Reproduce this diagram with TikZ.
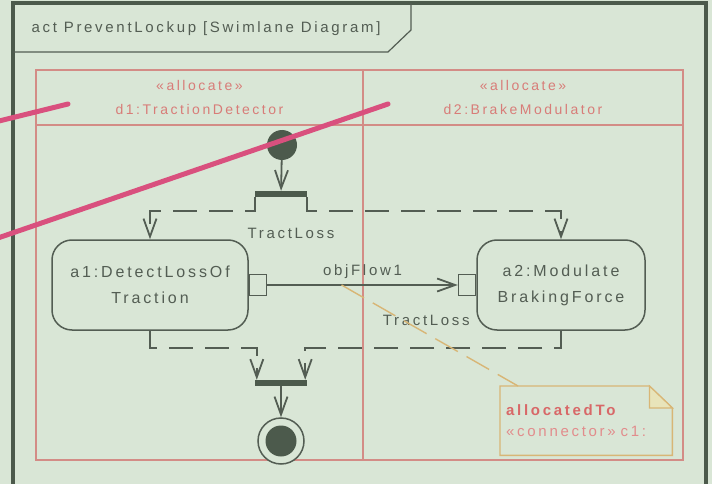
\documentclass[tikz,border=0pt]{standalone}
\usepackage{fontspec}
\setmainfont{Liberation Sans}[LetterSpace=18]
\usepackage{tikz}
\usetikzlibrary{arrows.meta,positioning,calc}

\definecolor{bgcol}{HTML}{D9E6D6}
\definecolor{framecol}{HTML}{4C5A4C}
\definecolor{inkcol}{HTML}{535D53}
\definecolor{lanecol}{HTML}{D38C86}
\definecolor{lanetext}{HTML}{D87C78}
\definecolor{notecol}{HTML}{D8B676}
\definecolor{notefold}{HTML}{E8E4BA}
\definecolor{notered}{HTML}{D86868}
\definecolor{notepink}{HTML}{E28C8C}
\definecolor{pinkline}{HTML}{D9507E}

\begin{document}
\begin{tikzpicture}[x=1pt,y=-1pt,
    every node/.style={text=inkcol,font=\fontsize{15}{20}\selectfont},
    action/.style={draw=inkcol,line width=1.5pt,rounded corners=20pt,fill=bgcol,
      minimum height=90pt,align=center,font=\fontsize{16}{26}\selectfont},
    pin/.style={draw=inkcol,line width=1.5pt,fill=bgcol,minimum width=17pt,
      minimum height=21pt,inner sep=0pt},
    bar/.style={fill=framecol,minimum width=52pt,minimum height=6pt,inner sep=0pt},
    flow/.style={draw=inkcol,line width=1.8pt,
      -{Straight Barb[length=18pt,width=13pt,line width=1.8pt]}},
    objflow/.style={flow,dash pattern=on 24pt off 12pt},
    lanelabel/.style={text=lanetext,align=center,font=\fontsize{14}{24}\selectfont}]

    \clip (0,0) rectangle (712,484);
    \fill[bgcol] (0,0) rectangle (712,484);

    \draw[framecol,line width=4pt] (12.5,500) |- (706,3) -- (706,500);
    \draw[inkcol,line width=1.2pt] (12.5,52) -- (388,52) -- (411,30) -- (411,3);
    \node[anchor=west] (tab) at (28,29) {act PreventLockup [Swimlane Diagram]};

    \draw[lanecol,line width=1.2pt] (36,70) rectangle (683,460);
    \draw[lanecol,line width=1.2pt] (36,125) -- (683,125);
    \draw[lanecol,line width=1.2pt] (363,70) -- (363,460);
    \node[lanelabel] (lane1) at (199.5,97) {«allocate»\\d1:TractionDetector};
    \node[lanelabel] (lane2) at (523,97) {«allocate»\\d2:BrakeModulator};

    \node[circle,fill=framecol,minimum size=30pt,inner sep=0pt] (init) at (282,145) {};
    \node[bar] (fork) at (281,194) {};
    \node[action,minimum width=196pt] (a1) at (150,285) {a1:DetectLossOf\\Traction};
    \node[action,minimum width=168pt] (a2) at (561,285) {a2:Modulate\\BrakingForce};
    \node[pin,anchor=west] (pA) at (a1.east) {};
    \node[pin,anchor=east] (pB) at (a2.west) {};
    \node[bar] (join) at (281,383) {};
    \node[circle,draw=inkcol,line width=1.5pt,fill=bgcol,minimum size=46pt] (fin) at (281,441) {};
    \node[circle,fill=framecol,minimum size=31pt,inner sep=0pt] (finDot) at (fin.center) {};

    \draw[flow] (init) -- (fork);
    \draw[objflow] (fork.south west) -- ++(0,14) -| (a1.north);
    \draw[objflow] (fork.south east) -- ++(0,14) -| (a2.north);
    \node (tl1) at ($(fork.south)+(10,36)$) {TractLoss};
    \draw[flow] (pA) -- node[above=2pt] (of1) {objFlow1} coordinate[pos=0.39] (fp) (pB);
    \draw[objflow] (a1.south) -- ++(0,17) -| ([xshift=2pt]join.north west);
    \draw[objflow] (a2.south) -- ++(0,17) -| ([xshift=-2pt]join.north east);
    \node (tl2) at ($(a2.south west)+(-50,-10)$) {TractLoss};
    \draw[flow] (join) -- (fin);

    \node[anchor=north west,text width=160pt,inner xsep=6pt,minimum height=69pt,
      align=left,font=\fontsize{15}{21}\selectfont] (note) at (500,386)
      {\textcolor{notered}{\textbf{allocatedTo}}\\
       \textcolor{notepink}{«connector» c1:}};
    \draw[notecol,line width=1.4pt] (note.north west) -- ($(note.north east)+(-23,0)$)
      -- ($(note.north east)+(0,22)$) -- (note.south east) -- (note.south west) -- cycle;
    \filldraw[notecol,fill=notefold,line width=1.2pt] ($(note.north east)+(-23,0)$)
      -- ($(note.north east)+(-23,22)$) -- ($(note.north east)+(0,22)$) -- cycle;
    \draw[notecol,line width=1.4pt,dash pattern=on 26pt off 10pt] (fp) -- ($(note.north west)+(18,0)$);

    \draw[pinkline,line width=5pt,line cap=round] (-5,122) -- (68,104);
    \draw[pinkline,line width=5pt,line cap=round] (-5,239) -- (388,104);
  \end{tikzpicture}
\end{document}
